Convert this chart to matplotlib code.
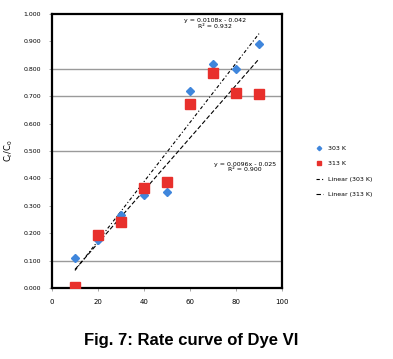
import numpy as np
import matplotlib
matplotlib.use("Agg")
import matplotlib.pyplot as plt

# time values and Ct/C0 for both temperatures
time = [10, 20, 30, 40, 50, 60, 70, 80, 90]
ratio_303 = [0.109, 0.175, 0.266, 0.339, 0.350, 0.720, 0.817, 0.800, 0.890]
ratio_313 = [0.005, 0.193, 0.241, 0.365, 0.387, 0.672, 0.784, 0.712, 0.708]

y_ticks = [0.0, 0.1, 0.2, 0.3, 0.4, 0.5, 0.6, 0.7, 0.8, 0.9, 1.0]
x_ticks = [0, 20, 40, 60, 80, 100]
grid_levels = [0.1, 0.5, 0.7, 0.8]   # only these show in the scan

eq_303 = "y = 0.0108x - 0.042\nR² = 0.932"
eq_313 = "y = 0.0096x - 0.025\nR² = 0.900"

fig = plt.figure(figsize=(3.93, 3.59), dpi=100)
ax = fig.add_axes([52 / 393, 1 - 288 / 359, 230 / 393, 274 / 359])

for g in grid_levels:
    ax.axhline(g, color="#9a9a9a", linewidth=1.0, zorder=1)

x = np.array(time)
for ys, style, lab in [(ratio_303, (0, (3, 2, 1, 2)), "Linear (303 K)"),
                       (ratio_313, (0, (4, 2)), "Linear (313 K)")]:
    k, b = np.polyfit(x, ys, 1)
    xx = np.array([x.min(), x.max()])
    ax.plot(xx, k * xx + b, color="black", linestyle=style, linewidth=0.8,
            label=lab, zorder=2)

ax.plot(time, ratio_303, "D", color="#3f86dc", markersize=4.5, label="303 K", zorder=3)
ax.plot(time, ratio_313, "s", color="#e8302c", markersize=6.5, label="313 K", zorder=3)

ax.text(71, 0.985, eq_303, fontsize=4.5, ha="center", va="top", linespacing=1.1)
ax.text(84, 0.46, eq_313, fontsize=4.5, ha="center", va="top", linespacing=1.1)

ax.set_xlim(0, 100)
ax.set_ylim(0, 1)
ax.set_xticks(x_ticks)
ax.set_yticks(y_ticks)
ax.set_xticklabels([str(t) for t in x_ticks], fontsize=5)
ax.set_yticklabels([f"{t:.3f}" for t in y_ticks], fontsize=4.5)
ax.tick_params(length=2, width=0.6, color="#9a9a9a", pad=6)
for s in ax.spines.values():
    s.set_linewidth(1.6)
ax.set_ylabel("C$_t$/C$_0$", fontsize=6, labelpad=6)

h, l = ax.get_legend_handles_labels()
order = [2, 3, 0, 1]
fig.legend([h[i] for i in order], [l[i] for i in order], loc="upper left",
           bbox_to_anchor=(310 / 393, 1 - 140 / 359), fontsize=4.5, frameon=False,
           handlelength=1.2, labelspacing=1.6, markerscale=0.5)

fig.text(191 / 393, 1 - 340 / 359, "Fig. 7: Rate curve of Dye VI", fontsize=12,
         fontweight="bold", ha="center", va="center", family="Liberation Sans")

fig.savefig("out.png", dpi=100)
